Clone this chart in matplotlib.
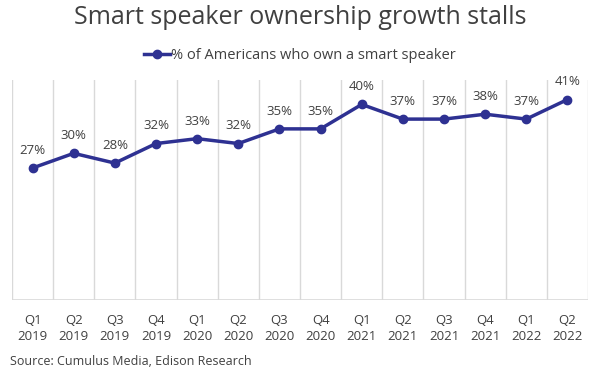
import matplotlib.pyplot as plt
from matplotlib.lines import Line2D

plt.rcParams['font.family'] = ['Open Sans', 'DejaVu Sans']

quarters = ['Q1', 'Q2', 'Q3', 'Q4', 'Q1', 'Q2', 'Q3', 'Q4', 'Q1', 'Q2', 'Q3', 'Q4', 'Q1', 'Q2']
years = ['2019'] * 4 + ['2020'] * 4 + ['2021'] * 4 + ['2022'] * 2
share = [27, 30, 28, 32, 33, 32, 35, 35, 40, 37, 37, 38, 37, 41]

line_color = '#2E3192'
text_color = '#404040'

fig = plt.figure(figsize=(6, 3.75), dpi=100)
ax = fig.add_axes([0.02, 0.2, 0.96, 0.5867])

x = list(range(len(share)))
ax.plot(x, share, color=line_color, lw=2.5, marker='o', ms=6)
for xi, v in zip(x, share):
    ax.annotate(f'{v}%', (xi, v), xytext=(0, 8), textcoords='offset points',
                ha='center', va='bottom', fontsize=9.5, color=text_color)

ax.set_xlim(-0.5, len(share) - 0.5)
ax.set_ylim(0, 45)
for b in range(len(share) + 1):
    ax.axvline(b - 0.5, color='#d9d9d9', lw=1, zorder=0)
for s in ax.spines.values():
    s.set_visible(False)
ax.axhline(0, color='#d9d9d9', lw=1.2, zorder=0)
ax.set_yticks([])
ax.set_xticks(x)
ax.set_xticklabels([f'{q}\n{y}' for q, y in zip(quarters, years)],
                   fontsize=9.5, color=text_color, linespacing=1.3)
ax.tick_params(axis='x', length=0, pad=10)

fig.text(0.5, 0.952, 'Smart speaker ownership growth stalls', ha='center', va='center',
         fontsize=18, color=text_color)
handle = Line2D([], [], color=line_color, lw=2.5, marker='o', ms=6)
fig.legend([handle], ['% of Americans who own a smart speaker'], loc='center',
           bbox_to_anchor=(0.5, 0.851), frameon=False, fontsize=10.5,
           labelcolor=text_color, handlelength=1.8, handletextpad=0.1)
fig.text(0.017, 0.035, 'Source: Cumulus Media, Edison Research', ha='left', va='center',
         fontsize=9, color=text_color)

fig.savefig('out.png', dpi=100)
